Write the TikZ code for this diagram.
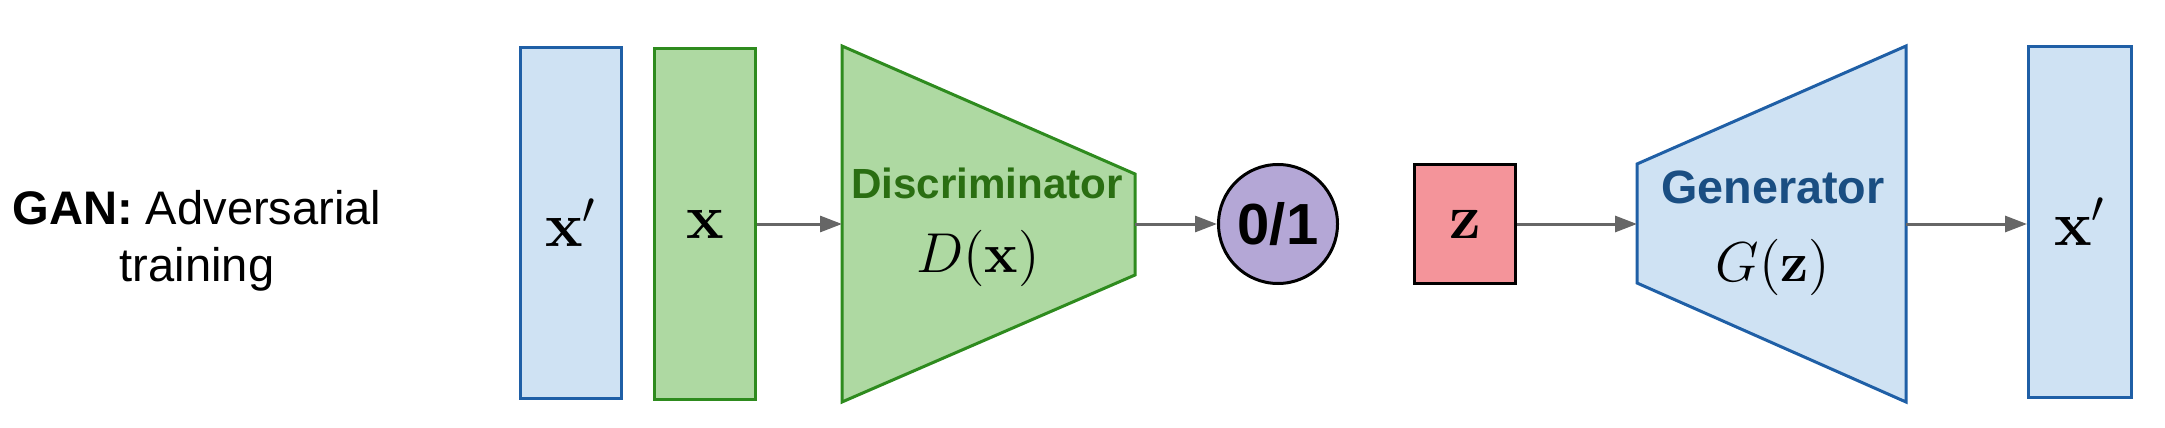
\RequirePackage{fix-cm}
\documentclass[tikz,border=0pt]{standalone}
\usepackage[no-math]{fontspec}
\newfontfamily\arialfont{Liberation Sans}
\usetikzlibrary{arrows.meta}

\definecolor{bluefill}{HTML}{CFE2F3}
\definecolor{blueline}{HTML}{1F5FA6}
\definecolor{bluetext}{HTML}{1A4E82}
\definecolor{greenfill}{HTML}{AED9A2}
\definecolor{greenline}{HTML}{2E8B1E}
\definecolor{greentext}{HTML}{2A6E12}
\definecolor{purplefill}{HTML}{B4A7D6}
\definecolor{redfill}{HTML}{F4949A}
\definecolor{arrowgray}{HTML}{666666}

\begin{document}
\begin{tikzpicture}[>={Triangle[length=0.22cm,width=0.16cm]}, line width=0.03cm,
  bluebox/.style={draw=blueline,fill=bluefill,minimum width=1.01cm,minimum height=3.51cm},
  greenbox/.style={draw=greenline,fill=greenfill,minimum width=1.01cm,minimum height=3.51cm},
  flow/.style={->,draw=arrowgray,fill=arrowgray},
  mathbig/.style={font=\fontsize{16}{19}\selectfont},
  mathhuge/.style={font=\fontsize{18}{21}\selectfont}]
\useasboundingbox (0,0) rectangle (21.65,4.27);

\node[align=center,font=\arialfont\fontsize{13.4}{16.2}\selectfont] (title) at (1.97,1.86)
  {\textbf{GAN:} Adversarial\\training};

% inputs
\node[bluebox,mathhuge] (xfake) at (5.71,2.04) {$\mathbf{x}'$};
\node[greenbox,mathhuge] (xreal) at (7.05,2.03) {$\mathbf{x}$};

% discriminator
\draw[draw=greenline,fill=greenfill] (8.42,3.81) -- (11.35,2.53) -- (11.35,1.52) -- (8.42,0.25) -- cycle;
\coordinate (Din) at (8.42,2.03);
\coordinate (Dout) at (11.35,2.03);
\node[text=greentext,font=\arialfont\bfseries\fontsize{12}{14}\selectfont] (dname) at (9.87,2.44) {Discriminator};
\node[mathbig] (dfun) at (9.78,1.69) {$D(\mathbf{x})$};

\node[circle,draw=black,fill=purplefill,minimum size=1.19cm,inner sep=0pt,
  font=\arialfont\bfseries\fontsize{16.5}{19}\selectfont] (label) at (12.78,2.03) {0/1};

% generator
\node[draw=black,fill=redfill,minimum width=1.01cm,minimum height=1.19cm,mathhuge] (noise) at (14.65,2.03) {$\mathbf{z}$};

\draw[draw=blueline,fill=bluefill] (16.37,2.63) -- (19.06,3.81) -- (19.06,0.25) -- (16.37,1.44) -- cycle;
\coordinate (Gin) at (16.37,2.03);
\coordinate (Gout) at (19.06,2.03);
\node[text=bluetext,font=\arialfont\bfseries\fontsize{13.3}{16}\selectfont] (gname) at (17.73,2.40) {Generator};
\node[mathbig] (gfun) at (17.73,1.60) {$G(\mathbf{z})$};

\node[bluebox,minimum width=1.03cm,mathhuge] (xgen) at (20.80,2.05) {$\mathbf{x}'$};

\draw[flow] (xreal) -- (Din);
\draw[flow] (Dout) -- (label);
\draw[flow] (noise) -- (Gin);
\draw[flow] (Gout) -- (xgen.west |- Gout);
\end{tikzpicture}
\end{document}
